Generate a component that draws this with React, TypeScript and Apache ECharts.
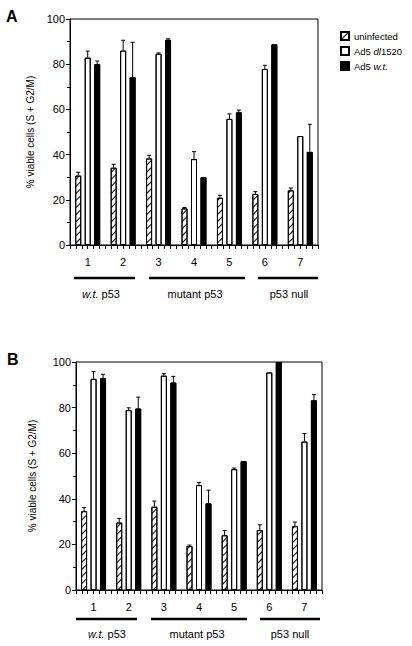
import React, { useEffect, useRef } from 'react';
import * as echarts from 'echarts';

const groups = ['1', '2', '3', '4', '5', '6', '7'];
const seriesNames = ['uninfected', 'Ad5 dl1520', 'Ad5 w.t.'];
const yAxisName = '% viable cells (S + G2/M)';
const groupLabels = ['{i|w.t.} p53', 'mutant p53', 'p53 null'];

// Panel A
const uninfectedA = [30.7, 34.2, 38.3, 16.2, 20.9, 22.6, 24.2];
const uninfectedErrA = [1.5, 1.5, 1.4, 0.4, 1.1, 1.0, 1.0];
const dl1520A = [82.9, 86.0, 84.6, 38.0, 55.8, 77.9, 48.2];
const dl1520ErrA = [2.9, 4.6, 0.4, 3.3, 2.2, 1.6, 0];
const wtA = [80.0, 74.3, 90.8, 30.0, 58.7, 88.8, 41.2];
const wtErrA = [1.4, 15.4, 0.4, 0, 1.0, 0, 12.2];

// Panel B
const uninfectedB = [34.6, 29.6, 36.5, 19.3, 24.0, 26.3, 28.0];
const uninfectedErrB = [1.6, 1.8, 2.5, 0.4, 2.1, 2.3, 1.8];
const dl1520B = [92.6, 78.9, 94.0, 46.0, 53.0, 95.4, 65.1];
const dl1520ErrB = [3.2, 1.0, 0.9, 1.2, 0.5, 0, 3.5];
const wtB = [92.9, 79.6, 91.0, 38.0, 56.5, 100, 83.2];
const wtErrB = [1.7, 5.0, 2.7, 5.8, 0, 0, 2.5];

const FONT = '"Liberation Sans", Arial, Helvetica, sans-serif';
// x axis: each group spans SLOTS tick intervals; bars sit at the group's centre
const SLOTS = 6;
const xOf = (k: number) => k * SLOTS + SLOTS / 2;

const hatchDecal = {
  symbol: 'rect',
  symbolSize: 1,
  dashArrayX: [1, 0],
  dashArrayY: [0.8, 3.4],
  rotation: -Math.PI / 4,
  color: '#000',
  backgroundColor: '#fff',
};
const noDecal = { symbol: 'none' };

const styles = [
  { color: '#fff', borderColor: '#000', borderWidth: 1, decal: hatchDecal },
  { color: '#fff', borderColor: '#000', borderWidth: 1, decal: noDecal },
  { color: '#000', borderColor: '#000', borderWidth: 1, decal: noDecal },
];
const offsets = [-9.5, 0, 9.5];

function buildPanel(
  idx: number,
  grid: { left: number; top: number; width: number; height: number },
  values: number[][],
  errs: number[][],
  nameGap: number
) {
  const gridOpt = {
    ...grid,
    show: true,
    borderColor: '#000',
    borderWidth: 1,
    backgroundColor: 'transparent',
  };
  const xAxis = {
    type: 'value',
    gridIndex: idx,
    min: 0,
    max: groups.length * SLOTS,
    interval: 1,
    position: 'bottom',
    axisLine: { show: true, onZero: false, lineStyle: { color: '#000', width: 1 } },
    axisTick: { show: true, length: 4, lineStyle: { color: '#000', width: 1 } },
    axisLabel: {
      show: true,
      color: '#000',
      fontSize: 11,
      fontFamily: FONT,
      margin: 11,
      showMinLabel: true,
      showMaxLabel: true,
      hideOverlap: false,
      formatter: (v: number) => {
        const g = (v - SLOTS / 2) / SLOTS;
        return Number.isInteger(g) && g >= 0 && g < groups.length ? groups[g] : '';
      },
    },
    splitLine: { show: false },
  };
  const yAxis = {
    type: 'value',
    gridIndex: idx,
    min: 0,
    max: 100,
    interval: 20,
    name: yAxisName,
    nameLocation: 'middle',
    nameGap,
    nameRotate: 90,
    nameTextStyle: { fontSize: 10, fontFamily: FONT, color: '#000' },
    axisLine: { show: true, lineStyle: { color: '#000' } },
    axisTick: { show: true, length: 4, lineStyle: { color: '#000' } },
    minorTick: { show: true, splitNumber: 2, length: 3, lineStyle: { color: '#000' } },
    axisLabel: { color: '#000', fontSize: 11, fontFamily: FONT, margin: 5 },
    splitLine: { show: false },
  };
  const series: any[] = [];
  values.forEach((vals, s) => {
    series.push({
      type: 'bar',
      name: seriesNames[s],
      xAxisIndex: idx,
      yAxisIndex: idx,
      data: vals.map((v, k) => [xOf(k), v]),
      barWidth: 6,
      barGap: '58%',
      itemStyle: styles[s],
      z: 2,
    });
  });
  values.forEach((vals, s) => {
    const off = offsets[s];
    series.push({
      type: 'custom',
      xAxisIndex: idx,
      yAxisIndex: idx,
      silent: true,
      z: 3,
      itemStyle: { decal: noDecal },
      encode: { x: 0, y: 1 },
      data: vals.map((v, k) => [xOf(k), v, errs[s][k]]),
      renderItem: (params: any, api: any) => {
        const e = api.value(2);
        if (!e) return null;
        const base = api.coord([api.value(0), api.value(1)]);
        const top = api.coord([api.value(0), api.value(1) + e]);
        const cx = base[0] + off;
        return {
          type: 'group',
          children: [
            {
              type: 'line',
              shape: { x1: cx, y1: base[1], x2: cx, y2: top[1] },
              style: { stroke: '#000', lineWidth: 1 },
            },
            {
              type: 'line',
              shape: { x1: cx - 2, y1: top[1], x2: cx + 2, y2: top[1] },
              style: { stroke: '#000', lineWidth: 1 },
            },
          ],
        };
      },
    });
  });
  return { gridOpt, xAxis, yAxis, series };
}

function groupGraphics(lineY: number, textY: number, spans: number[][], centers: number[]) {
  const els: any[] = [];
  spans.forEach((sp, i) => {
    els.push({
      type: 'line',
      shape: { x1: sp[0], y1: lineY, x2: sp[1], y2: lineY },
      style: { stroke: '#000', lineWidth: 2.5 },
    });
    els.push({
      type: 'text',
      x: centers[i],
      y: textY,
      style: {
        text: groupLabels[i],
        fill: '#000',
        fontSize: 11,
        fontFamily: FONT,
        align: 'center',
        verticalAlign: 'middle',
        rich: { i: { fontStyle: 'italic', fontSize: 11, fontFamily: FONT, fill: '#000' } },
      },
    });
  });
  return els;
}

export default function App() {
  const ref = useRef<HTMLDivElement>(null);
  useEffect(() => {
    if (!ref.current) return;
    const chart = echarts.init(ref.current, undefined, { renderer: 'svg' });
    const pA = buildPanel(
      0,
      { left: 70, top: 19, width: 248, height: 226 },
      [uninfectedA, dl1520A, wtA],
      [uninfectedErrA, dl1520ErrA, wtErrA],
      33
    );
    const pB = buildPanel(
      1,
      { left: 76, top: 362, width: 246, height: 228 },
      [uninfectedB, dl1520B, wtB],
      [uninfectedErrB, dl1520ErrB, wtErrB],
      39
    );
    const option: any = {
      animation: false,
      aria: { enabled: true, decal: { show: true } },
      textStyle: { fontFamily: FONT },
      grid: [pA.gridOpt, pB.gridOpt],
      xAxis: [pA.xAxis, pB.xAxis],
      yAxis: [pA.yAxis, pB.yAxis],
      legend: {
        data: seriesNames,
        orient: 'vertical',
        left: 340,
        top: 31,
        padding: 0,
        itemWidth: 8,
        itemHeight: 8,
        itemGap: 5,
        icon: 'rect',
        selectedMode: false,
        textStyle: {
          fontSize: 9.5,
          fontFamily: FONT,
          color: '#000',
          rich: { i: { fontStyle: 'italic', fontSize: 9.5, fontFamily: FONT, color: '#000' } },
        },
        formatter: (name: string) =>
          name === 'Ad5 dl1520' ? 'Ad5 {i|dl}1520' : name === 'Ad5 w.t.' ? 'Ad5 {i|w.t.}' : name,
      },
      graphic: [
        {
          type: 'text',
          left: 6,
          top: 8,
          style: { text: 'A', fontSize: 16, fontWeight: 'bold', fontFamily: FONT, fill: '#000' },
        },
        {
          type: 'text',
          left: 7,
          top: 351,
          style: { text: 'B', fontSize: 16, fontWeight: 'bold', fontFamily: FONT, fill: '#000' },
        },
        ...groupGraphics(278, 294, [[74, 135], [149, 245], [258, 318]], [101, 195, 289]),
        ...groupGraphics(619, 634, [[76, 137], [151, 247], [260, 320]], [107, 197, 290]),
      ],
      series: [...pA.series, ...pB.series],
    };
    chart.setOption(option);
    return () => chart.dispose();
  }, []);
  return (
    <div
      ref={ref}
      style={{ position: 'fixed', left: 0, top: 0, width: 412, height: 646, background: '#fff' }}
    />
  );
}
